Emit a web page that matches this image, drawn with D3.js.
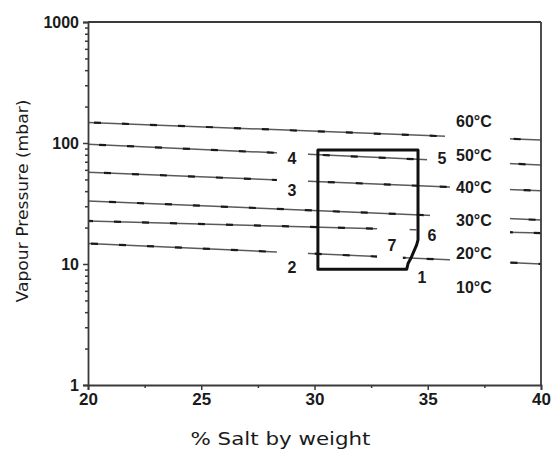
<!DOCTYPE html>
<html>
<head>
<meta charset="utf-8">
<script src="https://cdn.jsdelivr.net/npm/d3@7"></script>
<style>
  html, body { margin: 0; padding: 0; background: #fff; }
  svg { display: block; }
</style>
</head>
<body>
<svg id="chart" width="552" height="452"></svg>
<script>
// ---- data ----
const tempLabels = ["60°C", "50°C", "40°C", "30°C", "20°C", "10°C"];
const tempLabelX = [36.25, 36.25, 36.25, 36.25, 36.25, 36.25];
const tempLabelY = [150, 79.6, 43.3, 23.1, 12.3, 6.46];

const lineX = [20, 40];
const lineStartY = [148, 97.6, 57.3, 33.2, 22.7, 14.8];
const lineEndY   = [105.8, 65.8, 40.3, 23.1, 18.0, 10.0];
const lineGaps = [
  [[35.76, 38.63]],
  [[28.34, 29.71], [34.97, 38.63]],
  [[28.34, 29.71], [35.98, 38.63]],
  [[35.1, 38.63]],
  [[32.76, 34.2], [34.5, 38.63]],
  [[28.34, 29.71], [32.76, 33.9], [35.98, 38.63]]
];

const boxX = [30.15, 34.57, 34.57, 34.51, 34.26, 34.13, 34.07, 30.15];
const boxY = [87.5, 87.5, 15.8, 14.4, 11.2, 10.1, 9.04, 9.04];

const pointLabels = ["1", "2", "3", "4", "5", "6", "7"];
const pointX = [34.74, 29.01, 29.01, 29.01, 35.63, 35.19, 33.42];
const pointY = [7.8, 9.4, 40.9, 75.2, 75.2, 17.4, 14.4];

const xTicks = [20, 25, 30, 35, 40];
const xMinorTicks = [22.5, 27.5, 32.5, 37.5];
const yTicks = [1, 10, 100, 1000];
const yMinorTicks = [2,3,4,5,6,7,8,9,20,30,40,50,60,70,80,90,200,300,400,500,600,700,800,900];

const xTitle = "% Salt by weight";
const yTitle = "Vapour Pressure (mbar)";

// ---- layout ----
const W = 552, H = 452;
const m = { left: 88, right: 11, top: 22, bottom: 67 };
const svg = d3.select("#chart");
svg.append("rect").attr("width", W).attr("height", H).attr("fill", "#fff");

const x = d3.scaleLinear().domain([20, 40]).range([m.left, W - m.right]);
const y = d3.scaleLog().domain([1, 1000]).range([H - m.bottom, m.top]);

const tickFont = "'Liberation Sans', Arial, sans-serif";
const axisColor = "#3a3a3a";

// ---- curves ----
const defs = svg.append("defs");
const lineGen = d3.line().x(d => x(d[0])).y(d => y(d[1]));

lineStartY.forEach((v0, i) => {
  const mask = defs.append("mask").attr("id", "gap" + i).attr("maskUnits", "userSpaceOnUse")
    .attr("x", 0).attr("y", 0).attr("width", W).attr("height", H);
  mask.append("rect").attr("x", 0).attr("y", 0).attr("width", W).attr("height", H).attr("fill", "#fff");
  lineGaps[i].forEach(g => {
    mask.append("rect").attr("x", x(g[0])).attr("y", 0)
      .attr("width", x(g[1]) - x(g[0])).attr("height", H).attr("fill", "#000");
  });
  const pts = [[lineX[0], v0], [lineX[1], lineEndY[i]]];
  const g = svg.append("g").attr("mask", "url(#gap" + i + ")");
  g.append("path").attr("d", lineGen(pts)).attr("fill", "none")
    .attr("stroke", "#5a5a5a").attr("stroke-width", 1.5);
  g.append("path").attr("d", lineGen(pts)).attr("fill", "none")
    .attr("stroke", "#1a1a1a").attr("stroke-width", 2.2)
    .attr("stroke-dasharray", "7,21").attr("stroke-dashoffset", -6 - i * 5);
});

// ---- box ----
const boxPts = boxX.map((v, i) => [v, boxY[i]]);
svg.append("path").attr("d", lineGen(boxPts) + "Z")
  .attr("fill", "none").attr("stroke", "#111").attr("stroke-width", 3)
  .attr("stroke-linejoin", "round");

// ---- axes ----
const gx = svg.append("g").attr("transform", `translate(0,${H - m.bottom})`)
  .call(d3.axisBottom(x).tickValues(xTicks).tickFormat(d3.format("d")).tickSize(5).tickPadding(3));
const gxm = svg.append("g").attr("transform", `translate(0,${H - m.bottom})`)
  .call(d3.axisBottom(x).tickValues(xMinorTicks).tickFormat("").tickSize(3));
const gy = svg.append("g").attr("transform", `translate(${m.left},0)`)
  .call(d3.axisLeft(y).tickValues(yTicks).tickFormat(d3.format("d")).tickSize(5).tickPadding(4));
const gym = svg.append("g").attr("transform", `translate(${m.left},0)`)
  .call(d3.axisLeft(y).tickValues(yMinorTicks).tickFormat("").tickSize(3));

[gx, gxm, gy, gym].forEach(g => {
  g.select(".domain").attr("stroke", axisColor).attr("stroke-width", 1.8);
  g.selectAll(".tick line").attr("stroke", axisColor).attr("stroke-width", 1.5);
  g.selectAll(".tick text").attr("fill", "#1a1a1a")
    .style("font-family", tickFont).style("font-size", "16px").style("font-weight", "bold");
});
gx.selectAll(".tick text").style("font-size", "17px");
gxm.select(".domain").remove();
gym.select(".domain").remove();

// top & right frame
svg.append("line").attr("x1", x(20)).attr("x2", x(40)).attr("y1", y(1000)).attr("y2", y(1000))
  .attr("stroke", axisColor).attr("stroke-width", 2);
svg.append("line").attr("x1", x(40)).attr("x2", x(40)).attr("y1", y(1000)).attr("y2", y(1))
  .attr("stroke", axisColor).attr("stroke-width", 1.8);

// ---- temperature labels ----
svg.append("g").selectAll("text").data(tempLabels).join("text")
  .attr("x", (d, i) => x(tempLabelX[i]))
  .attr("y", (d, i) => y(tempLabelY[i]))
  .attr("dy", "0.36em")
  .attr("fill", "#1a1a1a")
  .style("font-family", tickFont).style("font-size", "16px").style("font-weight", "bold")
  .text(d => d);

// ---- point labels ----
svg.append("g").selectAll("text").data(pointLabels).join("text")
  .attr("x", (d, i) => x(pointX[i]))
  .attr("y", (d, i) => y(pointY[i]))
  .attr("dy", "0.36em")
  .attr("text-anchor", "middle")
  .attr("fill", "#1a1a1a")
  .style("font-family", tickFont).style("font-size", "16px").style("font-weight", "bold")
  .text(d => d);

// ---- titles ----
svg.append("text")
  .attr("x", (x(20) + x(40)) / 2 - 34).attr("y", 445)
  .attr("text-anchor", "middle")
  .attr("fill", "#1a1a1a")
  .attr("textLength", 180).attr("lengthAdjust", "spacingAndGlyphs")
  .style("font-family", "'DejaVu Sans', Verdana, sans-serif").style("font-size", "18px")
  .text(xTitle);

svg.append("text")
  .attr("transform", `translate(28,${201}) rotate(-90)`)
  .attr("text-anchor", "middle")
  .attr("fill", "#1a1a1a")
  .attr("textLength", 203).attr("lengthAdjust", "spacingAndGlyphs")
  .style("font-family", "'DejaVu Sans', Verdana, sans-serif").style("font-size", "15px")
  .text(yTitle);
</script>
</body>
</html>
